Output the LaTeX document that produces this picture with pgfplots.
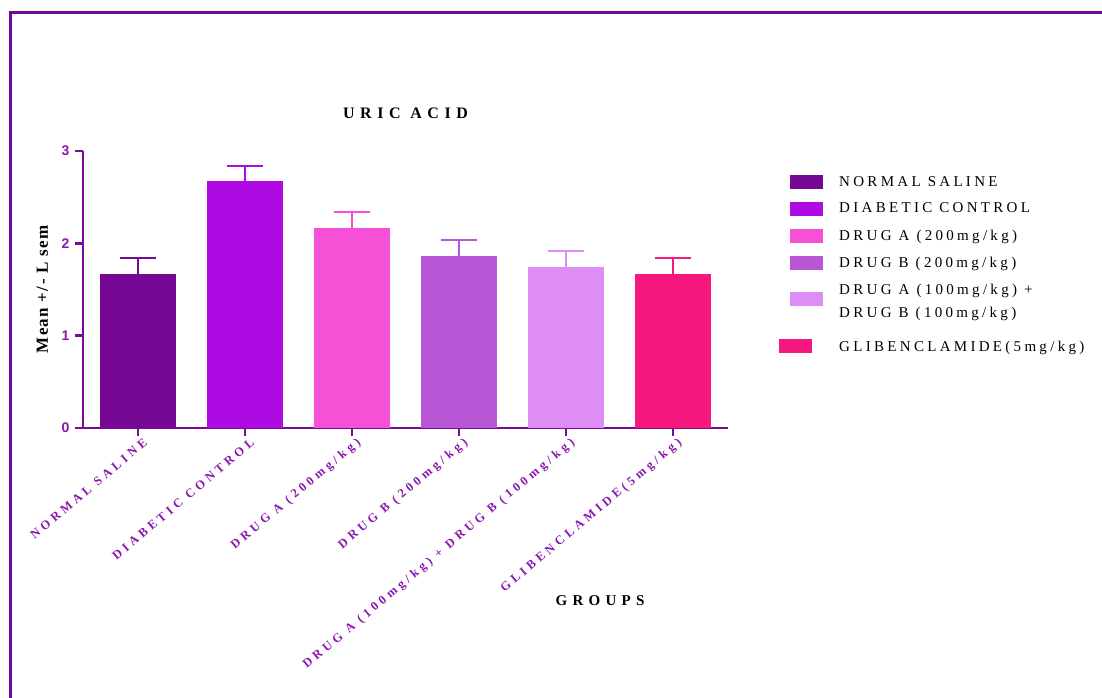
\documentclass[border=0pt]{standalone}
\usepackage{fontspec}
\setmainfont{Liberation Serif}
\newfontfamily\titlefont[LetterSpace=35]{Liberation Serif}
\newfontfamily\legfont[LetterSpace=22]{Liberation Serif}
\newfontfamily\xtickfont[LetterSpace=30]{Liberation Serif}
\newfontfamily\ylabfont[LetterSpace=8]{Liberation Serif}
\newfontfamily\lsans{Liberation Sans}
\usepackage{pgfplots}
\pgfplotsset{compat=1.18}
\definecolor{c1}{HTML}{760896}
\definecolor{c2}{HTML}{AD0BE1}
\definecolor{c3}{HTML}{F650D6}
\definecolor{c4}{HTML}{B857D6}
\definecolor{c5}{HTML}{DE8DF5}
\definecolor{c6}{HTML}{F7187F}
\definecolor{axpurple}{HTML}{7A0A9C}
\definecolor{tlpurple}{HTML}{8A17AE}
\definecolor{framepurple}{HTML}{74089A}
\pgfplotsset{
  legstd/.style={legend image code/.code={\fill[##1] (0pt,-7pt) rectangle (33pt,7pt);}},
  legfive/.style={legend image code/.code={\fill[##1] (0pt,-4pt) rectangle (33pt,10pt);}},
  legsix/.style={legend image code/.code={\fill[##1] (-11pt,-9pt) rectangle (22pt,5pt);}},
  mybar/.style={ybar, bar width=76pt, bar shift=0pt, fill=#1, draw=none,
    error bars/.cd, y dir=plus, y explicit,
    error bar style={#1, line width=2.2pt},
    error mark options={#1, line width=2.2pt, mark size=18pt, rotate=90}},
}
\begin{document}
\begin{tikzpicture}
\useasboundingbox (0,0) rectangle (1102pt,-697pt);
\clip (0,0) rectangle (1102pt,-697pt);
\draw[line width=3.5pt, framepurple] (10.5pt,-720pt) -- (10.5pt,-12.5pt) -- (1120pt,-12.5pt);
\begin{axis}[
  at={(83pt,-428pt)}, anchor=south west,
  scale only axis, width=645pt, height=277pt,
  xmin=-0.514, xmax=5.514, ymin=0, ymax=3,
  axis x line*=bottom, axis y line*=left,
  axis line style={line width=2.5pt, axpurple, -},
  tick align=outside,
  major tick length=8pt,
  major tick style={line width=2.5pt, axpurple},
  xtick={0,1,2,3,4,5},
  xticklabels={NORMAL SALINE, DIABETIC CONTROL, DRUG A (200mg/kg), DRUG B (200mg/kg), DRUG A (100mg/kg) + DRUG B (100mg/kg), GLIBENCLAMIDE(5mg/kg)},
  xticklabel style={xshift=10pt, yshift=-3pt, font=\xtickfont\bfseries\fontsize{12.5}{14}\selectfont, text=tlpurple, rotate=40, anchor=east},
  ytick={0,1,2,3},
  /pgf/number format/assume math mode=true,
  yticklabel style={xshift=-2pt, font=\lsans\bfseries\fontsize{14}{16}\selectfont, text=tlpurple},
  title={URIC ACID},
  title style={font=\titlefont\bfseries\fontsize{16}{18}\selectfont, at={(axis description cs:0.5,1)}, anchor=base, yshift=27pt},
  xlabel={GROUPS},
  xlabel style={font=\titlefont\bfseries\fontsize{15}{18}\selectfont, at={(axis description cs:0.8016,0)}, anchor=base, yshift=-177pt},
  ylabel={Mean +/- L sem},
  ylabel style={font=\ylabfont\bfseries\fontsize{17}{19}\selectfont, at={(axis description cs:-0.0543,0.5)}, anchor=base},
  legstd,
  legend cell align=left,
  legend style={draw=none, fill=none, inner sep=0pt, at={(axis description cs:1.0791,0.917)}, anchor=north west,
    font=\legfont\fontsize{15}{23}\selectfont, row sep=11.3pt,
    nodes={inner xsep=8pt, inner ysep=2pt, align=left},
    /tikz/every odd column/.append style={column sep=8pt}},
]
\addplot[mybar=c1] coordinates {(0,1.67) +- (0,0.17)};
\addplot[mybar=c2] coordinates {(1,2.67) +- (0,0.17)};
\addplot[mybar=c3] coordinates {(2,2.17) +- (0,0.17)};
\addplot[mybar=c4] coordinates {(3,1.86) +- (0,0.18)};
\addplot[legfive, mybar=c5] coordinates {(4,1.74) +- (0,0.18)};
\addplot[legsix, mybar=c6] coordinates {(5,1.67) +- (0,0.17)};
\legend{NORMAL SALINE, DIABETIC CONTROL, DRUG A (200mg/kg), DRUG B (200mg/kg), {DRUG A (100mg/kg) +\\DRUG B (100mg/kg)}, {\rule{0pt}{17pt}GLIBENCLAMIDE(5mg/kg)}}
\end{axis}
\end{tikzpicture}
\end{document}
